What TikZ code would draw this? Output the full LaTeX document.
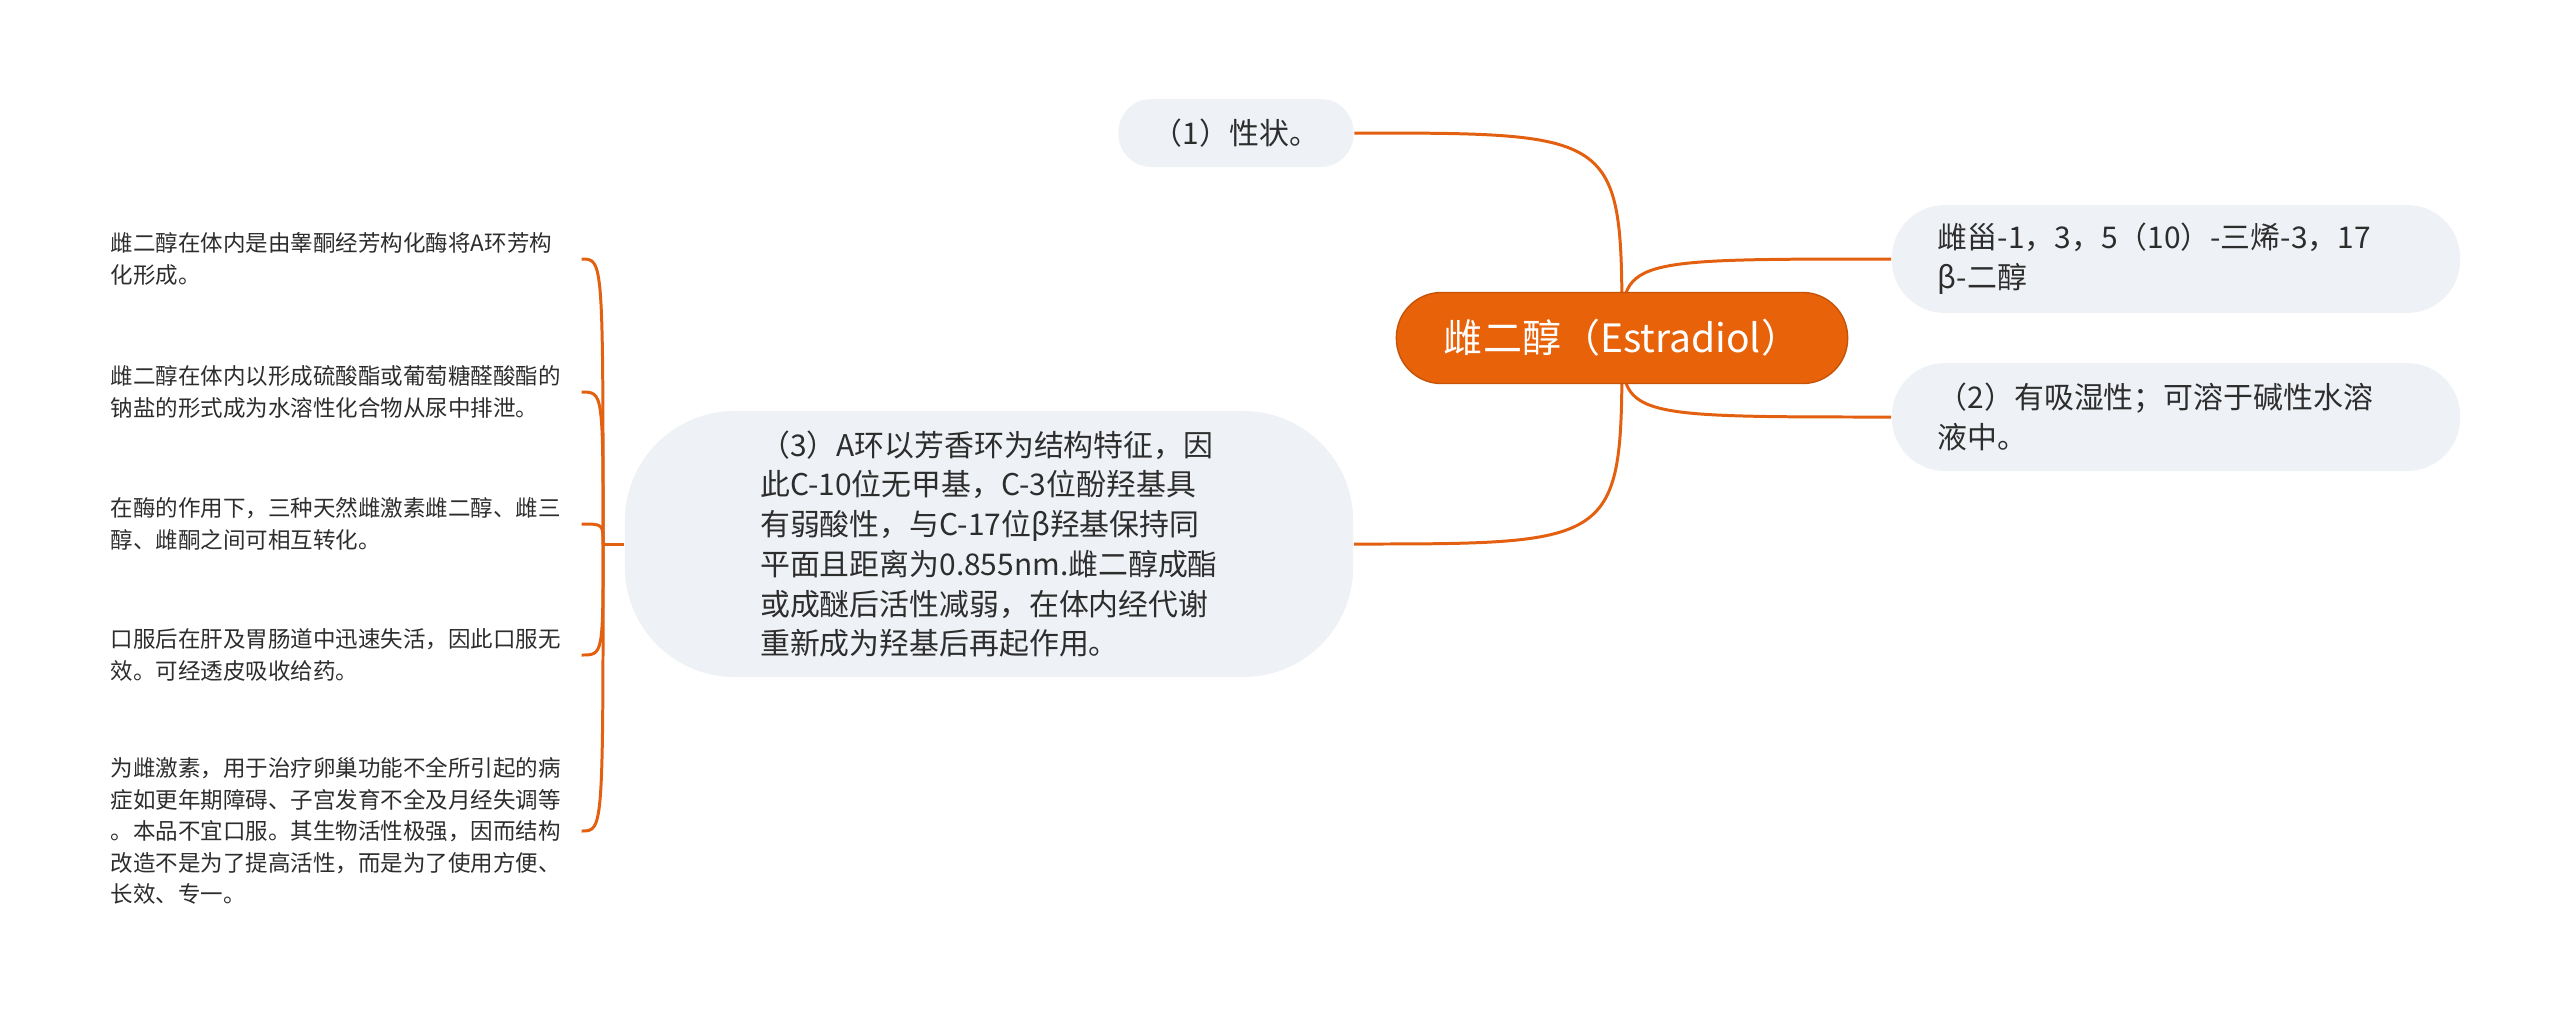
\documentclass[tikz,border=0pt]{standalone}
\usepackage{fontspec}
\setmainfont{Noto Sans CJK SC}
\usetikzlibrary{backgrounds}
\definecolor{rootorange}{RGB}{232,98,10}
\definecolor{branchline}{RGB}{226,96,16}
\definecolor{boxgray}{RGB}{238,241,245}
\definecolor{textdark}{RGB}{45,45,45}
\tikzset{rootbox/.style = {fill=rootorange, draw=rootorange!85!black, line width=0.4pt,
                           rounded corners=0.45cm, minimum width=4.51cm, minimum height=0.91cm,
                           text=white, font=\fontsize{11.1}{13}\selectfont}}
\tikzset{topicbox/.style = {fill=boxgray, text=textdark, font=\fontsize{8.5}{11.3}\selectfont}}
\tikzset{sidebox/.style = {align=left, text width=4.76cm, inner xsep=0.46cm,
                           minimum height=1.08cm, rounded corners=0.53cm}}
\tikzset{leafnote/.style = {text=textdark, align=left, text width=4.6cm, inner xsep=0.1cm,
                            anchor=west, font=\fontsize{6.4}{8.95}\selectfont}}
\tikzset{branch/.style = {draw=branchline, line width=0.85pt}}
\begin{document}
\begin{tikzpicture}[x=0.01cm, y=-0.01cm]
            \useasboundingbox (0,0) rectangle (2560,1014);
            % centre and main topics
            \node[rootbox] (root) at (1622,338) {雌二醇（Estradiol）};
            \node[topicbox, rounded corners=0.33cm, minimum width=2.35cm, minimum height=0.68cm] (prop) at (1236,133) {（1）性状。};
            \node[topicbox, sidebox] (sysname) at (2176,259) {雌甾-1，3，5（10）-三烯-3，17\\β-二醇};
            \node[topicbox, sidebox] (solub) at (2176,417) {（2）有吸湿性；可溶于碱性水溶\\液中。};
            \node[topicbox, align=left, rounded corners=1.1cm, minimum width=7.28cm, minimum height=2.66cm] (struct) at (989,544)
                {（3）A环以芳香环为结构特征，因\\此C-10位无甲基，C-3位酚羟基具\\有弱酸性，与C-17位β羟基保持同\\平面且距离为0.855nm.雌二醇成酯\\或成醚后活性减弱，在体内经代谢\\重新成为羟基后再起作用。};
            % notes on the left
            \node[leafnote] (leafa) at (100,259) {雌二醇在体内是由睾酮经芳构化酶将A环芳构\\化形成。};
            \node[leafnote] (leafb) at (100,392) {雌二醇在体内以形成硫酸酯或葡萄糖醛酸酯的\\钠盐的形式成为水溶性化合物从尿中排泄。};
            \node[leafnote] (leafc) at (100,524) {在酶的作用下，三种天然雌激素雌二醇、雌三\\醇、雌酮之间可相互转化。};
            \node[leafnote] (leafd) at (100,655) {口服后在肝及胃肠道中迅速失活，因此口服无\\效。可经透皮吸收给药。};
            \node[leafnote] (leafe) at (100,831) {为雌激素，用于治疗卵巢功能不全所引起的病\\症如更年期障碍、子宫发育不全及月经失调等\\。本品不宜口服。其生物活性极强，因而结构\\改造不是为了提高活性，而是为了使用方便、\\长效、专一。};
            \begin{scope}[on background layer]
                \draw[branch] (root.center) .. controls (root.center |- prop.east) .. (prop.east);
                \draw[branch] (root.center) .. controls (root.center |- struct.east) .. (struct.east);
                \draw[branch] (root.center) .. controls (root.center |- sysname.west) .. (sysname.west);
                \draw[branch] (root.center) .. controls (root.center |- solub.west) .. (solub.west);
                % bracket
                \coordinate (fork) at ([xshift=-0.21cm]struct.west);
                \draw[branch] (struct.west) -- (fork);
                \foreach \leaf in {leafa,leafb,leafc,leafd,leafe}
                    \draw[branch] (fork) .. controls (fork |- \leaf.east) .. (\leaf.east);
            \end{scope}
        \end{tikzpicture}
\end{document}
